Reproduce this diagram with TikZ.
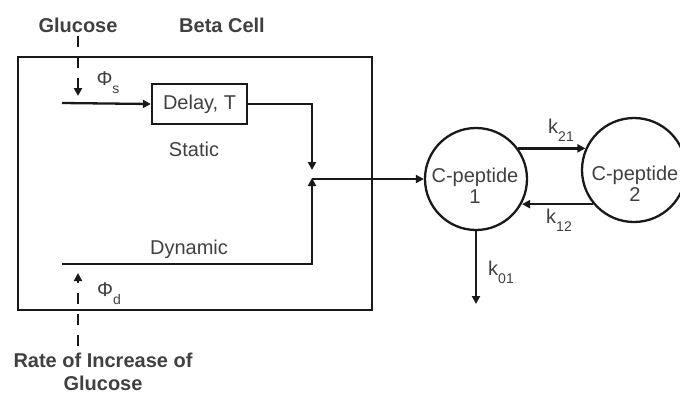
\documentclass[tikz,border=0pt]{standalone}
\usepackage{fontspec}
\setmainfont{Liberation Sans}
\usetikzlibrary{arrows.meta,calc}
\begin{document}
\begin{tikzpicture}[x=1pt,y=-1pt,
  txt/.style={text=black!75,font=\fontsize{20}{22}\selectfont,inner sep=0pt},
  btxt/.style={text=black!75,font=\fontsize{20}{23}\selectfont\bfseries,inner sep=0pt,align=center},
  ln/.style={line width=2.3pt,black!90},
  arr/.style={ln,-{Triangle[length=8pt,width=8pt]}},
  dsh/.style={ln,dash pattern=on 11pt off 10pt},
  comp/.style={circle,draw,line width=2.3pt,black!90,minimum size=102pt,inner sep=0pt},
  boxst/.style={draw,line width=2.3pt,black!90,inner sep=0pt}]
\clip (0,0) rectangle (680,394);
\useasboundingbox (0,0) rectangle (680,394);
% beta cell box
\node[boxst,minimum width=354pt,minimum height=253pt] (beta) at (195,183.5) {};
\node[boxst,minimum width=95pt,minimum height=40pt] (delay) at (199.5,104) {};
\node[txt] (delayt) at (199.5,104) {Delay, T};
% compartments
\node[comp] (c1) at (476,179) {};
\node[comp,minimum size=104pt] (c2) at (634,170) {};
\node[txt,align=center] (c1t) at (475,186) {C-peptide\\[-1pt]1};
\node[txt,align=center] (c2t) at (635,184) {C-peptide\\[-1pt]2};
% labels
\node[btxt] (glu) at (78,25) {Glucose};
\node[btxt] (bc) at (222,25) {Beta Cell};
\node[txt] (stat) at (194,149) {Static};
\node[txt] (dyn) at (189,249) {Dynamic};
\node[btxt] (rate) at (103,372) {Rate of Increase of\\Glucose};
\node[txt] (phis) at (108,83) {Φ\raisebox{-0.4em}{\fontsize{14}{14}\selectfont s}};
\node[txt] (phid) at (109,294) {Φ\raisebox{-0.4em}{\fontsize{14}{14}\selectfont d}};
\node[txt] (k21) at (561,130) {k\raisebox{-0.4em}{\fontsize{14}{14}\selectfont 21}};
\node[txt] (k12) at (559,220) {k\raisebox{-0.4em}{\fontsize{14}{14}\selectfont 12}};
\node[txt] (k01) at (501,272) {k\raisebox{-0.4em}{\fontsize{14}{14}\selectfont 01}};
% coordinates
\coordinate (sin) at (62,103);
\coordinate (din) at (62,264);
\coordinate (jtop) at (312,170);
\coordinate (jbot) at (312,178);
\coordinate (junc) at (312,179);
\coordinate (gtop) at (78,36);
\coordinate (gtip) at (78,96);
\coordinate (rbot) at (78,346);
\coordinate (rtip) at (78,273);
\coordinate (out) at (476,304);
% connectors
\draw[arr] (sin) -- (delay.west);
\draw[arr] (delay.east) -| (jtop);
\draw[arr] (din) -| (jbot);
\draw[arr] (junc) -- (c1.west);
\draw[arr] (c1.36) -- (c1.36 -| c2.156);
\draw[arr] (c2.220) -- (c2.220 -| c1.-28);
\draw[arr] (c1.south) -- (out);
\draw[dsh] (gtop) -- ($(gtip)+(0,-8)$);
\draw[arr] ($(gtip)+(0,-9)$) -- (gtip);
\draw[dsh] (rbot) -- ($(rtip)+(0,8)$);
\draw[arr] ($(rtip)+(0,9)$) -- (rtip);
\end{tikzpicture}
\end{document}
